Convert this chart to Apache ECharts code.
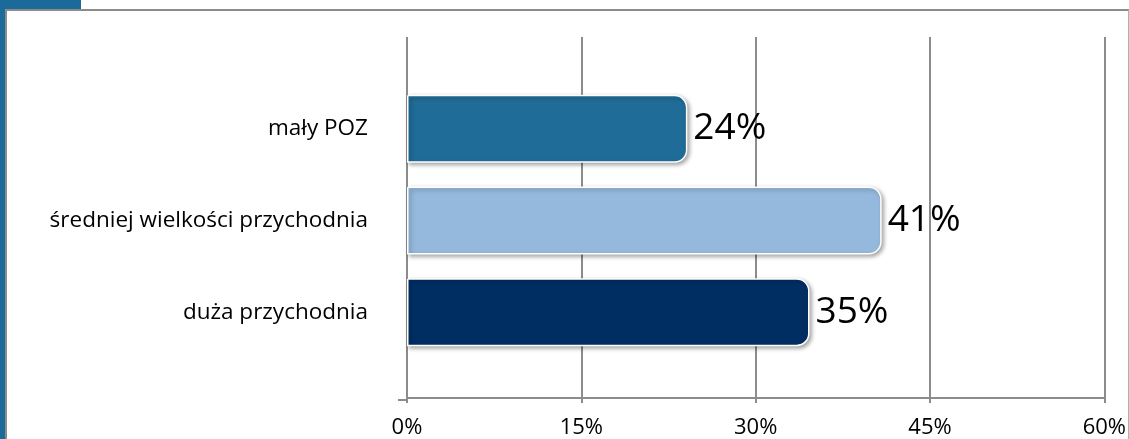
<!DOCTYPE html>
<html>
<head>
<meta charset="utf-8">
<script src="https://cdn.jsdelivr.net/npm/echarts@6/dist/echarts.min.js"></script>
<style>
html,body{margin:0;padding:0;background:#fff;}
#chart{width:1129px;height:439px;}
</style>
</head>
<body>
<div id="chart"></div>
<script>
const categories = ['mały POZ', 'średniej wielkości przychodnia', 'duża przychodnia'];
const values = [24.1, 40.8, 34.6];
const labels = ['24%', '41%', '35%'];
const barColors = ['#206C98', '#95B9DC', '#002E63'];
const ticks = [0, 15, 30, 45, 60];

const FONT = '"Open Sans", Lato, sans-serif';
const GRAY = '#8c8c8c';

const chart = echarts.init(document.getElementById('chart'));
chart.setOption({
  animation: false,
  backgroundColor: '#fff',
  graphic: [
    {type: 'rect', shape: {x: 0, y: 0, width: 81, height: 9}, style: {fill: '#1B6B9A'}, z: 10},
    {type: 'rect', shape: {x: 0, y: 0, width: 5, height: 439}, style: {fill: '#1B6B9A'}, z: 10},
    {type: 'line', shape: {x1: 5, y1: 10, x2: 1129, y2: 10}, style: {stroke: GRAY, lineWidth: 2}, z: 9},
    {type: 'line', shape: {x1: 6, y1: 10, x2: 6, y2: 439}, style: {stroke: GRAY, lineWidth: 2}, z: 9},
    {type: 'line', shape: {x1: 1128.5, y1: 10, x2: 1128.5, y2: 439}, style: {stroke: '#b0b0b0', lineWidth: 1}, z: 9},
    {type: 'line', shape: {x1: 398, y1: 400, x2: 407, y2: 400}, style: {stroke: GRAY, lineWidth: 2}, z: 9}
  ],
  grid: [
    {left: 407, right: 24, top: 37, bottom: 39},
    {left: 407, right: 24, top: 83, bottom: 81}
  ],
  xAxis: [
    {
      gridIndex: 0, type: 'value', min: ticks[0], max: ticks[ticks.length - 1], interval: 15,
      axisLine: {show: true, lineStyle: {color: GRAY, width: 2}},
      axisTick: {show: true, length: 5, lineStyle: {color: GRAY, width: 2}},
      splitLine: {show: true, lineStyle: {color: GRAY, width: 2}},
      axisLabel: {formatter: '{value}%', color: '#000', fontSize: 22, fontFamily: FONT, margin: 19}
    },
    {
      gridIndex: 1, type: 'value', min: ticks[0], max: ticks[ticks.length - 1], show: false
    }
  ],
  yAxis: [
    {gridIndex: 0, type: 'category', data: categories, show: false},
    {
      gridIndex: 1, type: 'category', data: categories, inverse: true,
      axisLine: {show: false}, axisTick: {show: false}, splitLine: {show: false},
      axisLabel: {color: '#000', fontSize: 22.5, fontFamily: FONT, margin: 39}
    }
  ],
  series: [{
    type: 'bar', xAxisIndex: 1, yAxisIndex: 1,
    barWidth: 68,
    data: values.map((v, i) => ({
      value: v,
      itemStyle: {color: barColors[i]}
    })),
    itemStyle: {
      borderRadius: [0, 12, 12, 0],
      borderColor: '#fff', borderWidth: 1.5,
      shadowColor: 'rgba(0,0,0,0.35)', shadowBlur: 4, shadowOffsetX: 2, shadowOffsetY: 2
    },
    label: {
      show: true, position: 'right', distance: 6,
      formatter: p => labels[p.dataIndex],
      color: '#000', fontSize: 37, fontFamily: FONT
    }
  }]
});
</script>
</body>
</html>
